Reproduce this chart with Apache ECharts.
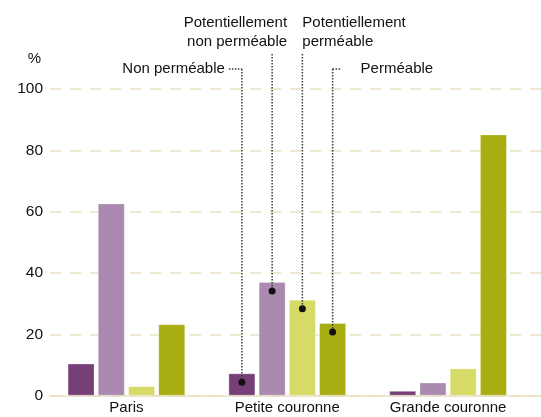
<!DOCTYPE html>
<html><head><meta charset="utf-8">
<script src="https://cdn.jsdelivr.net/npm/echarts@6/dist/echarts.min.js"></script>
<style>html,body{margin:0;padding:0;background:#fff}#c{width:541px;height:417px}</style>
</head><body><div id="c"></div>
<script>
const categories = ['Paris', 'Petite couronne', 'Grande couronne'];
const seriesNames = ['Non perméable', 'Potentiellement non perméable', 'Potentiellement perméable', 'Perméable'];
const nonPermeable = [10.5, 7.3, 1.6];
const potNonPermeable = [62.7, 37.1, 4.3];
const potPermeable = [3.1, 31.3, 8.9];
const permeable = [23.3, 23.7, 85.2];
const colors = ['#773f78', '#ab8aaf', '#d6da66', '#a8ad12'];
const yTicks = { min: 0, max: 100, interval: 20 };
// annotation labels (pointing at the "Petite couronne" group)
const annotationLabels = ['Non perméable', 'Potentiellement\nnon perméable', 'Potentiellement\nperméable', 'Perméable'];
const annotatedCategory = 1;

const FONT = '"Liberation Sans", Arial, sans-serif';
const TXT = '#111';
const chart = echarts.init(document.getElementById('c'), null, { renderer: 'canvas' });
const values = [nonPermeable, potNonPermeable, potPermeable, permeable];

const option = {
  animation: false,
  backgroundColor: '#fff',
  grid: [
    { left: 50, right: 0, top: 89, bottom: 21.3 },
    { left: 46, right: 12.5, top: 89, bottom: 21.3 }
  ],
  xAxis: [
    { gridIndex: 0, type: 'category', data: categories,
      axisLine: { show: true, lineStyle: { color: '#e9e0c2', width: 1.5 } },
      axisTick: { show: false }, axisLabel: { show: false } },
    { gridIndex: 1, type: 'category', data: categories,
      axisLine: { show: false }, axisTick: { show: false },
      axisLabel: { interval: 0, margin: 5, fontFamily: FONT, fontSize: 15, color: TXT } }
  ],
  yAxis: [
    { gridIndex: 0, type: 'value', min: yTicks.min, max: yTicks.max, interval: yTicks.interval,
      name: '%', nameLocation: 'end', nameGap: 23,
      nameTextStyle: { fontFamily: FONT, fontSize: 15, color: TXT, align: 'right', padding: [0, 9, 0, 0] },
      axisLine: { show: false }, axisTick: { show: false },
      axisLabel: { margin: 7, fontFamily: FONT, fontSize: 15.5, color: TXT },
      splitLine: { show: true, lineStyle: { color: '#ece2c2', width: 1.5, type: [11, 9] } } },
    { gridIndex: 1, type: 'value', min: yTicks.min, max: yTicks.max, interval: yTicks.interval,
      show: false, splitLine: { show: false } }
  ],
  series: values.map((v, i) => ({
    name: seriesNames[i], type: 'bar', xAxisIndex: 1, yAxisIndex: 1,
    data: v, barWidth: 27, barGap: '12%',
    itemStyle: { color: colors[i], borderColor: 'rgba(255,255,255,0.3)', borderWidth: 1 }
  }))
};
chart.setOption(option);

// Leader lines + dots computed from the library's bar layout
const model = chart.getModel();
const graphics = [];
const lineStyle = { stroke: '#3a3a3a', lineWidth: 1.5, lineDash: [1.5, 1.5] };
const tops = [69, 54, 54, 69];
for (let i = 0; i < 4; i++) {
  const lay = model.getSeriesByIndex(i).getData().getItemLayout(annotatedCategory);
  const cx = lay.x + lay.width / 2;
  const topY = Math.min(lay.y, lay.y + lay.height);
  const dotY = topY + 9;
  const t = tops[i];
  graphics.push({ type: 'line', shape: { x1: cx, y1: t, x2: cx, y2: dotY }, style: lineStyle, z: 100 });
  graphics.push({ type: 'circle', shape: { cx: cx, cy: dotY, r: 3.5 }, style: { fill: '#111' }, z: 101 });
  const ts = { fontFamily: FONT, fontSize: 15, fill: TXT, lineHeight: 19 };
  if (i === 0) {
    graphics.push({ type: 'line', shape: { x1: cx - 13, y1: t, x2: cx, y2: t }, style: lineStyle, z: 100 });
    graphics.push({ type: 'text', x: cx - 17, y: t, style: Object.assign({ text: annotationLabels[i], align: 'right', verticalAlign: 'middle' }, ts), z: 100 });
  } else if (i === 3) {
    graphics.push({ type: 'line', shape: { x1: cx, y1: t, x2: cx + 9, y2: t }, style: lineStyle, z: 100 });
    graphics.push({ type: 'text', x: cx + 28, y: t, style: Object.assign({ text: annotationLabels[i], align: 'left', verticalAlign: 'middle' }, ts), z: 100 });
  } else if (i === 1) {
    graphics.push({ type: 'text', x: cx + 15, y: t - 3, style: Object.assign({ text: annotationLabels[i], align: 'right', verticalAlign: 'bottom' }, ts), z: 100 });
  } else {
    graphics.push({ type: 'text', x: cx, y: t - 3, style: Object.assign({ text: annotationLabels[i], align: 'left', verticalAlign: 'bottom' }, ts), z: 100 });
  }
}
chart.setOption({ graphic: graphics });
</script></body></html>
